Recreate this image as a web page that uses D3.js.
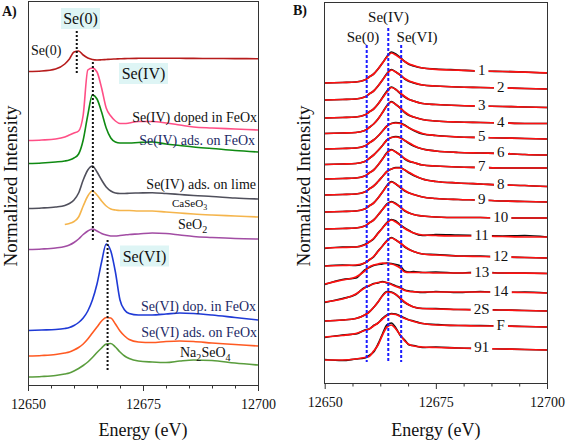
<!DOCTYPE html>
<html><head><meta charset="utf-8">
<script src="https://cdn.jsdelivr.net/npm/d3@7"></script>
<style>body{margin:0;background:#fff}svg{display:block}</style>
</head><body>
<svg id="c" width="567" height="441"></svg>
<script>
// ---------- Panel A data ----------
const energyA = [12650,12653,12656,12658,12659,12660,12661,12662,12663,12664,12665,12666,12667,12668,12669,12670,12671,12672,12674,12677,12680,12683,12686,12690,12695,12700];
const se0       = [31.35,31.4,31.6,32.1,32.6,33.3,33.4,33.0,32.7,32.55,32.5,32.52,32.55,32.58,32.6,32.62,32.64,32.65,32.67,32.68,32.68,32.67,32.66,32.65,32.64,32.63];
const seIVdoped = [24.45,24.5,24.6,24.8,25.0,25.2,25.4,27.0,31.5,31.7,31.3,29.7,27.7,26.9,26.4,26.15,26.15,26.2,26.35,26.35,26.2,26.0,25.8,25.7,25.6,25.5];
const seIVads   = [22.15,22.2,22.3,22.4,22.5,22.7,23.1,24.5,27.0,29.0,28.6,27.3,25.7,24.7,24.3,24.2,24.2,24.2,24.25,24.3,24.1,23.95,23.8,23.65,23.45,23.3];
const seIVlime  = [17.65,17.7,17.8,17.95,18.15,18.5,19.2,20.5,21.5,21.9,21.3,20.5,19.8,19.4,19.2,19.15,19.15,19.18,19.2,19.23,19.15,19.05,18.95,18.85,18.7,18.6];
const caSeO3    = [null,null,null,16.05,16.15,16.35,16.8,17.9,18.9,19.4,19.0,18.4,17.9,17.6,17.5,17.45,17.45,17.45,17.4,17.4,17.3,17.2,17.1,17.0,16.9,16.8];
const seO2      = [13.55,13.6,13.7,13.85,14.0,14.25,14.6,15.05,15.4,15.6,15.4,15.15,15.0,14.9,14.9,14.95,15.0,15.05,15.1,15.2,15.15,15.0,14.85,14.75,14.65,14.6];
const seVIdoped = [5.45,5.5,5.55,5.65,5.75,5.95,6.25,6.7,7.4,8.5,10.1,12.3,14.1,13.4,11.3,8.5,7.5,7.15,7.0,7.0,7.1,7.2,7.15,7.0,6.75,6.5];
const seVIads   = [2.9,2.95,3.05,3.2,3.3,3.5,3.75,4.1,4.6,5.2,5.8,6.4,6.75,6.7,6.1,5.4,4.9,4.55,4.3,4.25,4.35,4.4,4.35,4.2,4.05,3.9];
const na2SeO4   = [0.8,0.85,0.95,1.1,1.2,1.4,1.65,1.95,2.3,2.75,3.25,3.7,4.1,4.15,3.8,3.3,2.9,2.65,2.4,2.3,2.25,2.4,2.5,2.45,2.2,2.0];
const seriesAColors = ["#b71c1c","#ff4f86","#0f8a12","#50505c","#f5b54c","#a24da4","#1f3ad6","#ff5a22","#5a9d3d"];
const refEnergyA = [12660.6, 12664.1, 12667.3];
const refTopA    = [35.8, 32.3, 14.5];
const refBottomA = [31.0, 14.3, 1.5];

// ---------- Panel B data ----------
const energyB = [12650,12654,12657,12659,12660,12661,12662,12663,12664,12665,12666,12667,12668,12669,12670,12672,12675,12680,12685,12690,12695,12700];
const sampleNames = ["1","2","3","4","5","6","7","8","9","10","11","12","13","14","2S","F","91"];
const fit1  = [30.0,30.05,30.1,30.3,30.6,30.9,31.4,32.0,32.6,33.0,32.8,32.5,32.15,31.9,31.75,31.5,31.37,31.28,31.2,31.15,31.08,31.0];
const fit2  = [28.3,28.35,28.4,28.6,28.9,29.2,29.7,30.3,30.9,31.3,31.1,30.8,30.45,30.2,30.05,29.8,29.7,29.6,29.55,29.5,29.45,29.4];
const fit3  = [26.5,26.55,26.6,26.8,27.1,27.4,27.9,28.5,29.1,29.55,29.35,29.0,28.65,28.35,28.2,27.95,27.85,27.75,27.7,27.65,27.6,27.55];
const fit4  = [24.95,25.0,25.05,25.25,25.55,25.9,26.4,27.05,27.7,28.1,27.85,27.5,27.1,26.8,26.6,26.35,26.2,26.1,26.05,26.0,25.95,25.95];
const fit5  = [23.4,23.45,23.5,23.7,24.0,24.3,24.7,25.2,25.7,25.95,26.0,25.95,25.75,25.5,25.3,24.95,24.75,24.6,24.55,24.5,24.45,24.4];
const fit6  = [21.85,21.9,21.95,22.15,22.45,22.8,23.25,23.75,24.3,24.55,24.6,24.5,24.25,24.0,23.75,23.4,23.2,23.05,23.0,22.95,22.85,22.8];
const fit7  = [20.4,20.45,20.5,20.7,21.0,21.3,21.8,22.4,23.0,23.3,23.1,22.8,22.45,22.2,22.05,21.8,21.7,21.6,21.55,21.5,21.5,21.5];
const fit8  = [18.8,18.85,18.9,19.1,19.4,19.7,20.15,20.65,21.15,21.4,21.5,21.5,21.3,21.05,20.8,20.4,20.15,20.0,19.9,19.8,19.75,19.65];
const fit9  = [17.1,17.15,17.2,17.4,17.7,18.0,18.5,19.1,19.7,20.1,19.9,19.6,19.25,19.0,18.85,18.6,18.45,18.35,18.3,18.2,18.15,18.1];
const fit10 = [15.4,15.45,15.5,15.7,16.0,16.3,16.8,17.35,17.85,18.1,17.9,17.6,17.25,17.0,16.85,16.7,16.6,16.55,16.55,16.5,16.5,16.5];
const fit11 = [13.5,13.55,13.6,13.8,14.1,14.45,14.95,15.5,16.0,16.3,16.1,15.8,15.45,15.2,15.0,14.8,14.75,14.7,14.7,14.65,14.6,14.6];
const fit12 = [11.7,11.75,11.8,12.0,12.3,12.65,13.15,13.7,14.2,14.5,14.3,14.0,13.65,13.35,13.15,12.9,12.8,12.7,12.65,12.6,12.55,12.5];
const fit13 = [9.9,10.3,10.6,11.2,11.6,11.8,11.9,12.0,11.95,11.9,11.75,11.5,11.1,11.05,11.05,11.05,11.0,11.0,11.0,11.0,10.98,10.95];
const fit14 = [8.1,8.4,8.9,9.5,9.75,9.9,10.05,10.1,10.05,9.85,9.65,9.5,9.25,9.15,9.12,9.1,9.1,9.1,9.1,9.1,9.05,9.0];
const fit2S = [6.2,6.3,6.45,6.8,7.1,7.55,8.1,8.7,9.1,9.05,8.85,8.5,8.1,7.8,7.6,7.45,7.4,7.35,7.3,7.3,7.25,7.2];
const fitF  = [4.6,4.75,4.95,5.25,5.4,5.7,6.0,6.4,6.75,6.9,6.85,6.65,6.45,6.3,6.15,5.95,5.8,5.75,5.7,5.7,5.65,5.6];
const fit91 = [2.3,2.3,2.4,2.55,2.65,3.2,3.8,4.8,5.6,5.8,5.4,4.8,4.2,3.85,3.7,3.6,3.55,3.5,3.45,3.4,3.35,3.3];
const dat1  = [30.0,30.05,30.1,30.3,30.6,30.9,31.4,32.0,32.65,33.1,32.9,32.55,32.15,31.85,31.7,31.5,31.4,31.3,31.2,31.15,31.1,31.0];
const dat2  = [28.3,28.35,28.4,28.6,28.9,29.2,29.7,30.3,30.95,31.35,31.1,30.8,30.4,30.15,30.0,29.8,29.7,29.6,29.55,29.5,29.45,29.4];
const dat3  = [26.5,26.55,26.6,26.8,27.1,27.4,27.9,28.55,29.2,29.6,29.35,28.95,28.6,28.35,28.2,27.95,27.85,27.75,27.7,27.65,27.6,27.55];
const dat4  = [24.95,25.0,25.05,25.25,25.55,25.9,26.4,27.05,27.75,28.15,27.85,27.5,27.05,26.75,26.6,26.35,26.2,26.1,26.05,26.0,25.95,25.95];
const dat5  = [23.4,23.45,23.5,23.7,24.0,24.3,24.7,25.2,25.7,25.95,26.05,26.0,25.8,25.5,25.25,24.9,24.75,24.6,24.55,24.5,24.45,24.4];
const dat6  = [21.85,21.9,21.95,22.15,22.45,22.8,23.25,23.75,24.3,24.55,24.65,24.55,24.25,23.95,23.7,23.4,23.2,23.05,23.0,22.95,22.85,22.8];
const dat7  = [20.4,20.45,20.5,20.7,21.0,21.3,21.8,22.4,23.05,23.35,23.1,22.8,22.4,22.15,22.05,21.8,21.7,21.6,21.55,21.5,21.5,21.5];
const dat8  = [18.8,18.85,18.9,19.1,19.4,19.7,20.15,20.65,21.15,21.4,21.55,21.55,21.3,21.0,20.75,20.4,20.15,20.0,19.9,19.8,19.75,19.65];
const dat9  = [17.1,17.15,17.2,17.4,17.7,18.0,18.5,19.1,19.75,20.15,19.9,19.55,19.2,19.0,18.85,18.6,18.45,18.35,18.3,18.2,18.15,18.1];
const dat10 = [15.4,15.45,15.5,15.7,16.0,16.3,16.8,17.35,17.9,18.15,17.95,17.6,17.2,17.0,16.85,16.7,16.6,16.55,16.55,16.5,16.5,16.5];
const dat11 = [13.45,13.6,13.6,13.85,14.1,14.4,15.0,15.5,16.05,16.35,16.2,15.8,15.5,15.25,15.0,14.75,14.85,14.8,14.75,14.7,14.75,14.6];
const dat12 = [11.7,11.8,11.75,12.0,12.3,12.6,13.2,13.7,14.25,14.55,14.3,14.0,13.6,13.35,13.15,12.9,12.85,12.7,12.7,12.6,12.55,12.5];
const dat13 = [9.85,10.35,10.5,11.3,11.55,11.75,11.85,11.9,12.0,11.95,11.85,11.7,11.2,11.1,11.15,11.05,11.1,11.0,11.1,11.0,11.0,10.95];
const dat14 = [8.05,8.45,8.85,9.55,9.7,9.95,10.0,10.15,10.0,9.9,9.7,9.55,9.3,9.2,9.15,9.05,9.15,9.05,9.15,9.05,9.1,9.0];
const dat2S = [6.2,6.3,6.45,6.8,7.1,7.55,8.1,8.75,9.15,9.1,8.85,8.45,8.05,7.8,7.6,7.45,7.45,7.35,7.35,7.3,7.25,7.2];
const datF  = [4.55,4.8,4.9,5.3,5.4,5.75,6.0,6.45,6.8,6.95,6.9,6.7,6.5,6.3,6.2,5.95,5.85,5.75,5.75,5.7,5.65,5.6];
const dat91 = [2.35,2.25,2.4,2.5,2.75,3.1,3.9,4.9,5.8,6.0,5.5,4.75,4.3,3.8,3.75,3.55,3.6,3.5,3.45,3.4,3.35,3.3];
const refEnergyB = [12659.45, 12664.3, 12667.2];
const refTopB    = [33.8, 35.5, 33.8];
const refLabelsB = ["Se(0)", "Se(IV)", "Se(VI)"];

const xTickLabels = [12650, 12675, 12700];

// ---------- drawing ----------
const FONT = '"Liberation Serif","Times New Roman",Times,serif';
const svg = d3.select("#c").style("font-family", FONT);

function drawFrame(g, x, y, minorStep) {
  const [x0, x1] = x.range(), [y0, y1] = y.range();
  g.append("rect").attr("x", x0).attr("y", y1).attr("width", x1 - x0).attr("height", y0 - y1)
    .attr("fill", "none").attr("stroke", "#333").attr("stroke-width", 1).attr("shape-rendering", "crispEdges");
  const minor = d3.range(12650, 12700.01, minorStep).filter(v => !xTickLabels.includes(v));
  const ax = g.append("g").attr("transform", `translate(0,${y0})`)
    .call(d3.axisBottom(x).tickValues(xTickLabels).tickSize(6).tickPadding(8).tickFormat(d3.format("d")));
  ax.select(".domain").remove();
  ax.attr("font-family", null);
  ax.selectAll("text").style("font-family", FONT).style("font-size", "14px").attr("fill", "#111");
  ax.selectAll("line").attr("stroke", "#333");
  const mx = g.append("g").attr("transform", `translate(0,${y0})`)
    .call(d3.axisBottom(x).tickValues(minor).tickSize(3.5).tickFormat(""));
  mx.select(".domain").remove();
  mx.selectAll("line").attr("stroke", "#333");
  g.append("text").attr("x", (x0 + x1) / 2).attr("y", 436).attr("text-anchor", "middle")
    .style("font-size", "18px").attr("fill", "#111").text("Energy (eV)");
}

// Panel A
const xA = d3.scaleLinear().domain([12650, 12700]).range([28, 258]);
const yA = d3.scaleLinear().domain([0, 38.4]).range([385, 1]);
const gA = svg.append("g");
const seriesA = [se0, seIVdoped, seIVads, seIVlime, caSeO3, seO2, seVIdoped, seVIads, na2SeO4];
const lineA = d3.line().defined(d => d[1] != null).x(d => xA(d[0])).y(d => yA(d[1])).curve(d3.curveMonotoneX);
seriesA.forEach((vals, i) => {
  gA.append("path").attr("d", lineA(energyA.map((e, j) => [e, vals[j]])))
    .attr("fill", "none").attr("stroke", seriesAColors[i]).attr("stroke-width", 1.6);
});
refEnergyA.forEach((e, i) => {
  gA.append("line").attr("x1", xA(e)).attr("x2", xA(e)).attr("y1", yA(refTopA[i])).attr("y2", yA(refBottomA[i]))
    .attr("stroke", "#111").attr("stroke-width", 2).attr("stroke-dasharray", "2,2");
});
drawFrame(gA, xA, yA, 5);

function boxLabel(g, cx, cy, w, h, txt, size) {
  g.append("rect").attr("x", cx - w / 2).attr("y", cy - h / 2).attr("width", w).attr("height", h).attr("fill", "#def5f5");
  g.append("text").attr("x", cx).attr("y", cy).attr("dy", "0.35em").attr("text-anchor", "middle")
    .style("font-size", size + "px").attr("fill", "#111").text(txt);
}
boxLabel(gA, 80.5, 18.5, 39, 21, "Se(0)", 16);
boxLabel(gA, 143.5, 73.5, 49, 21, "Se(IV)", 16);
boxLabel(gA, 144.5, 256, 49, 21, "Se(VI)", 16);

// parts: strings are normal text, {sub:"x"} are subscripts
function richLabel(g, x, y, anchor, parts, size, color) {
  const t = g.append("text").attr("x", x).attr("y", y).attr("dy", "0.35em").attr("text-anchor", anchor)
    .style("font-size", size + "px").attr("fill", color || "#111");
  let lowered = false;
  parts.forEach(p => {
    if (typeof p === "string") {
      const s = t.append("tspan").text(p);
      if (lowered) { s.attr("dy", -size * 0.3); lowered = false; }
    } else {
      t.append("tspan").attr("dy", size * 0.3).style("font-size", (size * 0.72) + "px").text(p.sub);
      lowered = true;
    }
  });
  return t;
}
richLabel(gA, 31, 50, "start", ["Se(0)"], 14);
richLabel(gA, 257, 117, "end", ["Se(IV) doped in FeOx"], 14);
richLabel(gA, 255, 140, "end", ["Se(IV) ads. on FeOx"], 14, "#232a66");
richLabel(gA, 256, 184, "end", ["Se(IV) ads. on lime"], 14);
richLabel(gA, 172, 203, "start", ["CaSeO", {sub: "3"}], 11);
richLabel(gA, 178, 224, "start", ["SeO", {sub: "2"}], 14);
richLabel(gA, 256, 306, "end", ["Se(VI) dop. in FeOx"], 14, "#232a66");
richLabel(gA, 257, 332, "end", ["Se(VI) ads. on FeOx"], 14, "#232a66");
richLabel(gA, 180, 352, "start", ["Na", {sub: "2"}, "SeO", {sub: "4"}], 14);

gA.append("text").attr("x", 2).attr("y", 16).style("font-size", "14px").style("font-weight", "bold").attr("fill", "#111").text("A)");
gA.append("text").attr("transform", "translate(10,186) rotate(-90)").attr("text-anchor", "middle").attr("dy", "0.35em")
  .style("font-size", "19px").attr("fill", "#111").text("Normalized Intensity");

// Panel B
const xB = d3.scaleLinear().domain([12650, 12700]).range([324.7, 547]);
const yB = d3.scaleLinear().domain([0, 38.1]).range([383, 2]);
const gB = svg.append("g");
const fitsB = [fit1,fit2,fit3,fit4,fit5,fit6,fit7,fit8,fit9,fit10,fit11,fit12,fit13,fit14,fit2S,fitF,fit91];
const datsB = [dat1,dat2,dat3,dat4,dat5,dat6,dat7,dat8,dat9,dat10,dat11,dat12,dat13,dat14,dat2S,datF,dat91];
const lineB = d3.line().x(d => xB(d[0])).y(d => yB(d[1])).curve(d3.curveMonotoneX);
datsB.forEach(vals => {
  gB.append("path").attr("d", lineB(energyB.map((e, j) => [e, vals[j]])))
    .attr("fill", "none").attr("stroke", "#111").attr("stroke-width", 1.7);
});
fitsB.forEach(vals => {
  gB.append("path").attr("d", lineB(energyB.map((e, j) => [e, vals[j]])))
    .attr("fill", "none").attr("stroke", "#ff1010").attr("stroke-width", 1.7);
});
// sample labels on white patches
sampleNames.forEach((name, i) => {
  const e = i % 2 === 0 ? 12685.3 : 12689.6;
  const vals = fitsB[i];
  const idx = energyB.findIndex(v => v >= e);
  const v = vals[idx - 1] + (vals[idx] - vals[idx - 1]) * (e - energyB[idx - 1]) / (energyB[idx] - energyB[idx - 1]);
  const t = gB.append("text").attr("x", xB(e)).attr("y", yB(v) - 1.5).attr("dy", "0.35em").attr("text-anchor", "middle")
    .style("font-size", "15px").attr("fill", "#111").text(name);
  const bb = t.node().getBBox();
  gB.insert("rect", () => t.node()).attr("x", bb.x - 3).attr("y", bb.y + 2).attr("width", bb.width + 6).attr("height", bb.height - 3).attr("fill", "#fff");
});
refEnergyB.forEach((e, i) => {
  gB.append("line").attr("x1", xB(e)).attr("x2", xB(e)).attr("y1", yB(refTopB[i])).attr("y2", yB(2.1))
    .attr("stroke", "#1a1aff").attr("stroke-width", 2).attr("stroke-dasharray", "3,2");
});
gB.append("text").attr("x", 363).attr("y", 37).attr("dy", "0.35em").attr("text-anchor", "middle").style("font-size", "15px").attr("fill", "#111").text(refLabelsB[0]);
gB.append("text").attr("x", 388.5).attr("y", 17).attr("dy", "0.35em").attr("text-anchor", "middle").style("font-size", "15px").attr("fill", "#111").text(refLabelsB[1]);
gB.append("text").attr("x", 417).attr("y", 37).attr("dy", "0.35em").attr("text-anchor", "middle").style("font-size", "15px").attr("fill", "#111").text(refLabelsB[2]);
drawFrame(gB, xB, yB, 6.25);
gB.append("text").attr("x", 293).attr("y", 15).style("font-size", "14px").style("font-weight", "bold").attr("fill", "#111").text("B)");
gB.append("text").attr("transform", "translate(303,186) rotate(-90)").attr("text-anchor", "middle").attr("dy", "0.35em")
  .style("font-size", "19px").attr("fill", "#111").text("Normalized Intensity");
</script>
</body></html>
